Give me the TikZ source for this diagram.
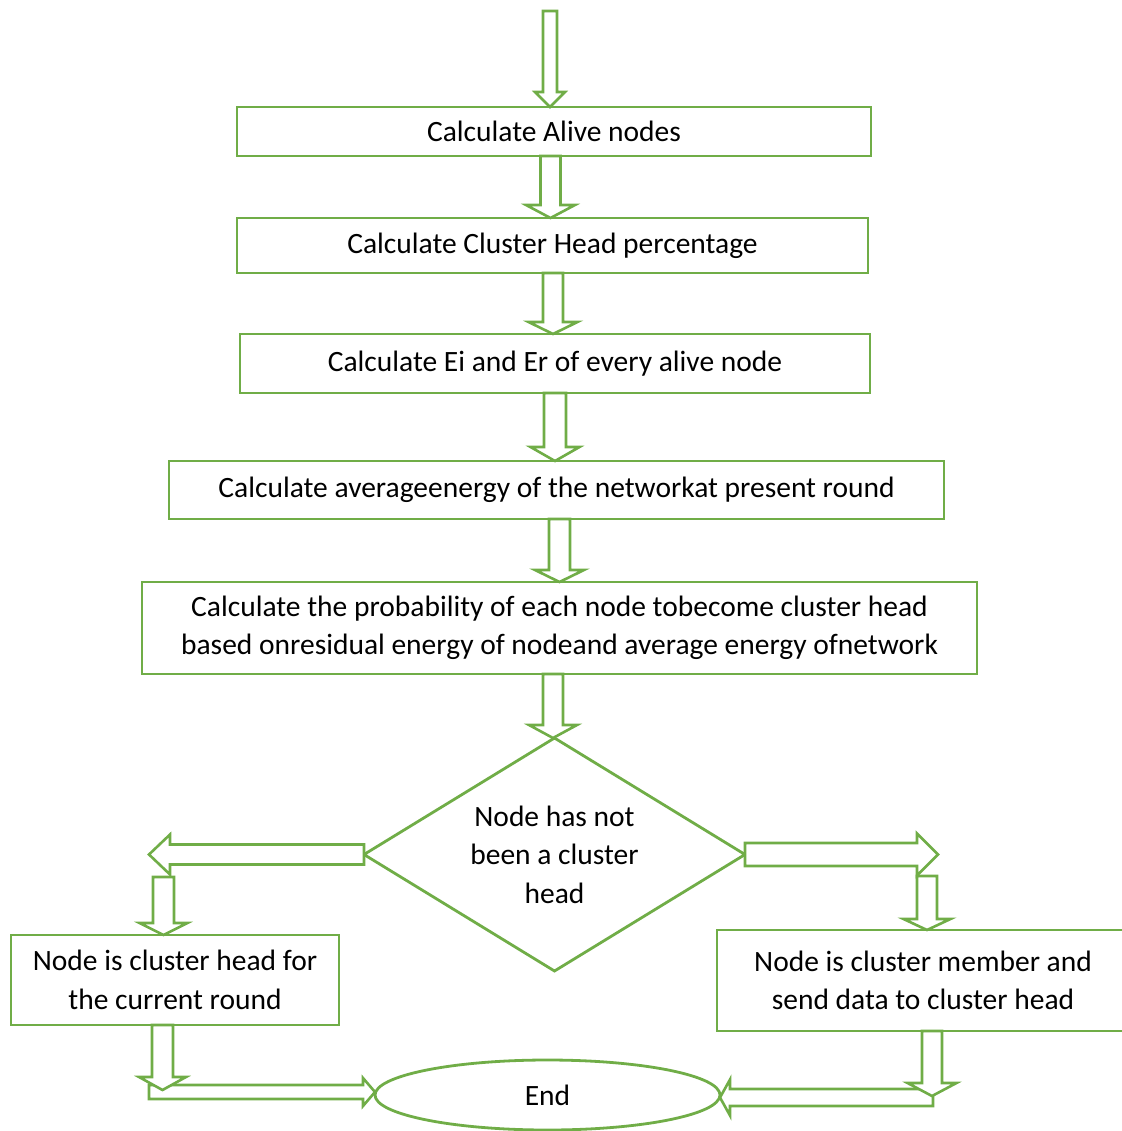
\documentclass[tikz,border=0pt]{standalone}
\usepackage{fontspec}
\setmainfont{Carlito}
\usetikzlibrary{calc,shapes.geometric}
\definecolor{FlowGreen}{RGB}{112,173,71}
\newcommand\flowfont{\fontsize{29.5}{38.5}\selectfont}
\tikzset{
  stepbox/.style={draw=FlowGreen,line width=2.8pt,fill=white,inner sep=0pt,outer sep=0pt,align=center,font=\flowfont},
  decision/.style={diamond,draw=FlowGreen,line width=2.8pt,fill=white,inner sep=0pt,outer sep=0pt,aspect=1.635,align=center,font=\flowfont},
  terminal/.style={ellipse,draw=FlowGreen,line width=2.8pt,fill=white,inner sep=0pt,outer sep=0pt,font=\flowfont},
  blockarrow/.style={draw=FlowGreen,fill=white,line width=2.6pt,line join=miter}
}
% hollow block arrows: start, tip, half shaft, half head, head length
\newcommand\downblock[5]{%
  \draw[blockarrow] let \p1=#1, \p2=#2 in
    (\x1-#3pt,\y1) -- (\x1+#3pt,\y1) -- (\x1+#3pt,\y2+#5pt) -- (\x1+#4pt,\y2+#5pt)
    -- (\x1,\y2) -- (\x1-#4pt,\y2+#5pt) -- (\x1-#3pt,\y2+#5pt) -- cycle;}
\newcommand\sideblock[5]{%
  \draw[blockarrow] let \p1=#1, \p2=#2, \n1={\x2-sign(\x2-\x1)*#5pt} in
    (\x1,\y1-#3pt) -- (\n1,\y1-#3pt) -- (\n1,\y1-#4pt) -- (\x2,\y1)
    -- (\n1,\y1+#4pt) -- (\n1,\y1+#3pt) -- (\x1,\y1+#3pt) -- cycle;}

\begin{document}
\begin{tikzpicture}[x=1pt,y=-1pt]
\useasboundingbox (0,0) rectangle (1121,1131);

\node[stepbox,minimum width=634pt,minimum height=49pt] (alive) at (554,131.5) {Calculate Alive nodes};
\node[stepbox,minimum width=631pt,minimum height=55pt] (chp) at (552.5,245.5) {Calculate Cluster Head percentage};
\node[stepbox,minimum width=630pt,minimum height=59pt] (eier) at (555,363.5) {Calculate Ei and Er of every alive node};
\node[stepbox,minimum width=775pt,minimum height=58pt] (avg) at (556.5,490) {Calculate averageenergy of the networkat present round};
\node[stepbox,minimum width=835pt,minimum height=92pt] (prob) at (559.5,628) {Calculate the probability of each node tobecome cluster head\\based onresidual energy of nodeand average energy ofnetwork};
\node[decision,minimum width=381pt,minimum height=233pt] (dia) at (554.5,854.5) {Node has not\\been a cluster\\head};
\node[stepbox,minimum width=328pt,minimum height=90pt] (hd) at (175,980) {Node is cluster head for\\the current round};
\node[stepbox,minimum width=412pt,minimum height=101pt] (mem) at (923,980.5) {Node is cluster member and\\send data to cluster head};
\node[terminal,minimum width=345pt,minimum height=70pt] (end) at (547.5,1095) {End};

\coordinate (start) at (550,11);
\coordinate (lturn) at (149,856);
\coordinate (ldrop) at (163.5,877);
\coordinate (rturn) at (938,855);
\coordinate (rdrop) at (927,876);
\coordinate (lbend) at (162.5,1090);
\coordinate (lgo) at (149,1092);
\coordinate (rbend) at (932,1096);
\coordinate (rgo) at (933,1097.5);

\downblock{(start)}{(alive.north)}{7}{15}{15}
\downblock{($(alive.south)+(-3.5,0)$)}{(chp.north)}{10}{24.5}{13}
\downblock{($(chp.south)+(0.5,0)$)}{(eier.north)}{10}{24.5}{12}
\downblock{(eier.south)}{(avg.north)}{11}{24.5}{14}
\downblock{($(avg.south)+(3,0)$)}{(prob.north)}{10.5}{24.5}{12}
\downblock{($(prob.south)+(-6.5,0)$)}{(dia.north)}{10}{24}{13}

\sideblock{(dia.west)}{(lturn)}{10}{20}{21}
\downblock{(ldrop)}{(hd.north)}{10.5}{24}{12}
\sideblock{(dia.east)}{(rturn)}{11.5}{21}{21}
\downblock{(rdrop)}{(mem.north)}{10}{23.5}{11}

\sideblock{(lgo)}{(end.west)}{7}{14}{12}
\downblock{($(hd.south)+(-12.5,0)$)}{(lbend)}{10.5}{23.5}{13}
\sideblock{(rgo)}{(end.east)}{8.5}{18}{10}
\downblock{($(mem.south)+(9,0)$)}{(rbend)}{10}{24.5}{13}
\end{tikzpicture}
\end{document}
